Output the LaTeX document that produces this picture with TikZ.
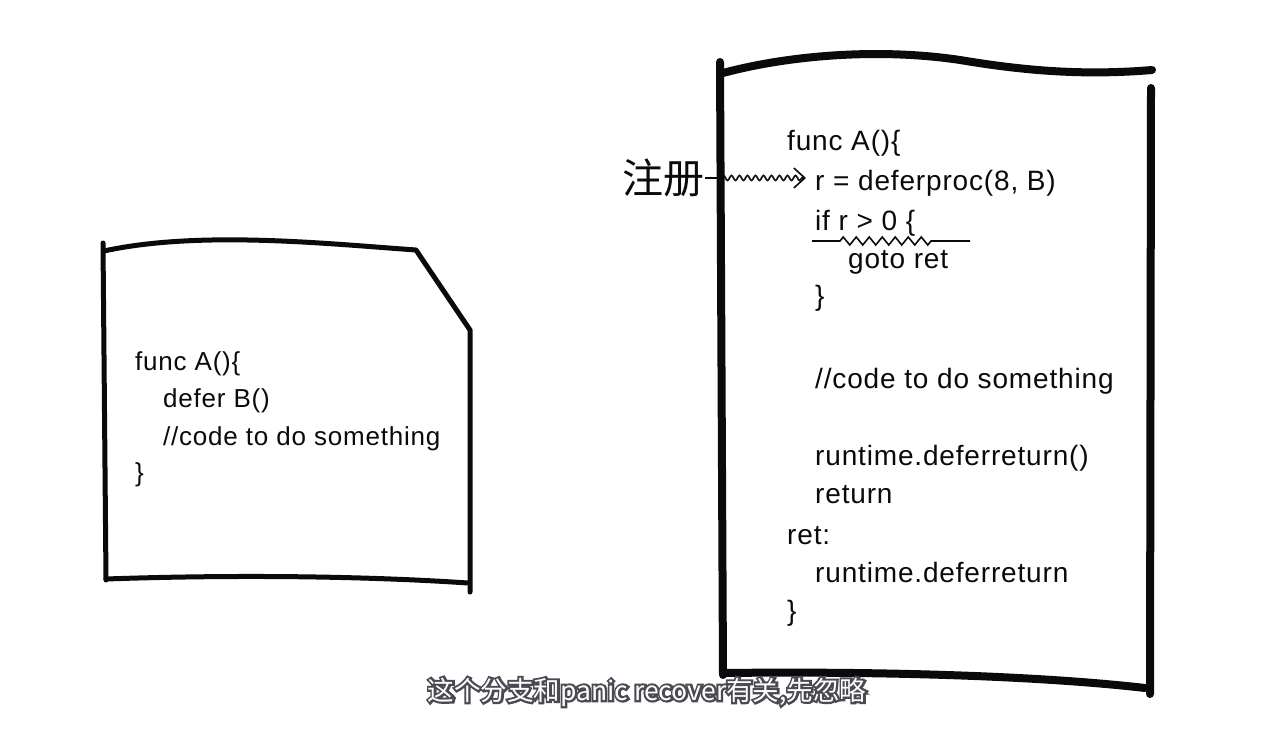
\documentclass[tikz,border=0pt]{standalone}
\usepackage{fontspec}
\setmainfont{Liberation Sans}
\newfontfamily\codefont{Liberation Sans}[LetterSpace=3]
\newfontfamily\cjkfont{Noto Sans CJK SC}
\usetikzlibrary{arrows.meta, decorations.pathmorphing}
\definecolor{inkblack}{RGB}{10,10,10}
\definecolor{subedge}{RGB}{70,70,78}
% outlined subtitle text: a dark stroked copy under the white one
\newcommand{\outlined}[1]{\rlap{\special{pdf:code 1 Tr 4.2 w 0.29 0.29 0.32 RG}#1\special{pdf:code 0 Tr}}#1}
\tikzset{
  pen/.style      = {draw=inkblack, line width=5pt, line cap=round, line join=round},
  heavypen/.style = {draw=inkblack, line width=8pt, line cap=round, line join=round},
  code/.style     = {anchor=base west, inner sep=0pt, text=inkblack,
                     font=\codefont\fontsize{28}{30}\selectfont},
  smallcode/.style = {code, font=\codefont\fontsize{26}{28}\selectfont},
  cjkmark/.style  = {inner sep=0pt, text=inkblack, font=\cjkfont\fontsize{41}{44}\selectfont},
  wig/.style      = {-{Straight Barb[length=11pt, width=20pt, line width=1.6pt]},
                     line width=1.6pt, draw=inkblack, shorten >=9pt,
                     decorate, decoration={snake, amplitude=2.5pt, segment length=8pt,
                                           pre length=16pt, post length=11pt}},
  zig/.style      = {line width=1.6pt, draw=inkblack,
                     decorate, decoration={zigzag, amplitude=4pt, segment length=13pt,
                                           pre length=28pt, post length=34pt}},
  subtext/.style  = {inner sep=0pt, text=white, font=\cjkfont\fontsize{26.5}{30}\selectfont},
}
\begin{document}
\begin{tikzpicture}[x=1pt, y=-1pt]
  \fill[white] (0,0) rectangle (1282,746);
  \useasboundingbox (0,0) rectangle (1282,746);

  % left box: plain defer
  \draw[pen] (103,243) -- (106,580);
  \draw[pen] (106,579) .. controls (250,574) and (380,577) .. (468,583);
  \draw[pen] (470,592) -- (470,330) -- (420,256) -- (416,250)
             .. controls (330,244) and (200,230) .. (104,251);

  \node[smallcode] (lfunc)  at (135,370) {func A()\{};
  \node[smallcode] (ldefer) at (163,407) {defer B()};
  \node[smallcode] (lwork)  at (163,445) {//code to do something};
  \node[smallcode] (lclose) at (135,481) {\}};

  % right box: what the compiler emits
  \draw[heavypen] (720,62) -- (723,675);
  \draw[heavypen] (723,73) .. controls (790,55) and (880,48) .. (960,60)
                  .. controls (1020,70) and (1080,76) .. (1152,70);
  \draw[heavypen] (1151,88) -- (1150,694);
  \draw[heavypen] (723,673) .. controls (900,671) and (1050,677) .. (1145,688);

  \node[code] (rfunc)   at (787,151) {func A()\{};
  \node[code] (rproc)   at (815,191) {r = deferproc(8, B)};
  \node[code] (rif)     at (815,230) {if r > 0 \{};
  \node[code] (rgoto)   at (848,268) {goto ret};
  \node[code] (rifend)  at (815,305) {\}};
  \node[code] (rwork)   at (815,388) {//code to do something};
  \node[code] (rdefret) at (815,465) {runtime.deferreturn()};
  \node[code] (rreturn) at (815,503) {return};
  \node[code] (rlabel)  at (787,544) {ret:};
  \node[code] (rdefret2) at (815,582) {runtime.deferreturn};
  \node[code] (rclose)  at (787,620) {\}};

  \node[cjkmark, anchor=east] (reg) at (705,178) {注册};
  \draw[wig] (reg.east) -- (reg.east -| rproc.west);
  \draw[zig] (812,241) -- (970,241);

  % subtitle
  \node[subtext] (subtitle) at (647,692) {\outlined{这个分支和panic recover有关,先忽略}};
\end{tikzpicture}
\end{document}
